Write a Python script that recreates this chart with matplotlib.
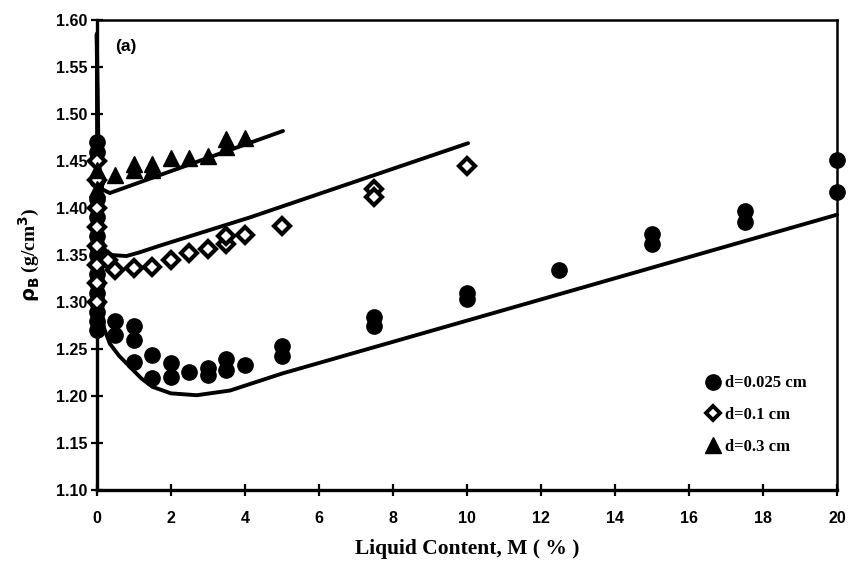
import matplotlib.pyplot as plt
from matplotlib.lines import Line2D

# measured points, d = 0.025 cm (filled circles)
m_circ = [0, 0, 0, 0, 0, 0, 0, 0, 0, 0, 0, 0, 0, 0, 0,
          0.5, 0.5, 1.0, 1.0, 1.0, 1.5, 1.5, 2.0, 2.0, 2.5, 3.0, 3.0,
          3.5, 3.5, 4.0, 5.0, 5.0, 7.5, 7.5, 10, 10, 12.5, 15, 15,
          17.5, 17.5, 20, 20]
rho_circ = [1.47, 1.46, 1.43, 1.41, 1.39, 1.37, 1.36, 1.35, 1.33, 1.32, 1.31, 1.30, 1.29, 1.28, 1.27,
            1.28, 1.265, 1.275, 1.26, 1.236, 1.244, 1.219, 1.235, 1.22, 1.226, 1.23, 1.222,
            1.24, 1.228, 1.233, 1.253, 1.243, 1.284, 1.275, 1.31, 1.303, 1.334, 1.372, 1.362,
            1.397, 1.385, 1.451, 1.417]

# d = 0.1 cm (open diamonds)
m_diam = [0, 0, 0, 0, 0, 0, 0, 0, 0.3, 0.5, 1.0, 1.5, 2.0, 2.5, 3.0, 3.5, 3.5, 4.0,
          5.0, 7.5, 7.5, 10]
rho_diam = [1.45, 1.43, 1.40, 1.38, 1.36, 1.34, 1.32, 1.30, 1.345, 1.334, 1.336, 1.337,
            1.345, 1.352, 1.357, 1.362, 1.37, 1.371, 1.381, 1.42, 1.412, 1.445]

# d = 0.3 cm (filled triangles)
m_tri = [0, 0, 0.5, 1.0, 1.0, 1.5, 1.5, 2.0, 2.5, 3.0, 3.5, 3.5, 4.0]
rho_tri = [1.44, 1.42, 1.435, 1.44, 1.447, 1.44, 1.447, 1.453, 1.453, 1.455, 1.465, 1.474, 1.475]

# model curves
mc_circ = [0, 0.02, 0.05, 0.1, 0.2, 0.35, 0.6, 0.9, 1.2, 1.5, 2.0, 2.7, 3.6, 5.0, 20]
rc_circ = [1.585, 1.45, 1.35, 1.30, 1.272, 1.256, 1.243, 1.231, 1.219, 1.21, 1.203,
           1.201, 1.206, 1.224, 1.393]
mc_diam = [0, 0.02, 0.05, 0.1, 0.2, 0.3, 0.43, 0.8, 1.16, 1.7, 4.13, 10.03]
rc_diam = [1.585, 1.45, 1.40, 1.37, 1.357, 1.352, 1.35, 1.349, 1.353, 1.36, 1.39, 1.469]
mc_tri = [0, 0.05, 0.15, 0.35, 5.03]
rc_tri = [1.585, 1.45, 1.42, 1.416, 1.482]

labels = ['d=0.025 cm', 'd=0.1 cm', 'd=0.3 cm']

fig = plt.figure(figsize=(8.49, 5.72), dpi=100)
ax = fig.add_axes([0.114, 0.143, 0.872, 0.822])

lw = 2.8
ax.plot(mc_circ, rc_circ, color='black', lw=lw, solid_capstyle='round', clip_on=False)
ax.plot(mc_diam, rc_diam, color='black', lw=lw, solid_capstyle='round', clip_on=False)
ax.plot(mc_tri, rc_tri, color='black', lw=lw, solid_capstyle='round', clip_on=False)

ax.plot(m_circ, rho_circ, 'o', color='black', ms=11, ls='none', clip_on=False, zorder=3)
ax.plot(m_diam, rho_diam, 'D', mfc='white', mec='black', mew=3, ms=8, ls='none',
        clip_on=False, zorder=3)
ax.plot(m_tri, rho_tri, '^', color='black', ms=12, ls='none', clip_on=False, zorder=3)

ax.set_xlim(0, 20)
ax.set_ylim(1.10, 1.60)
ax.set_xticks(range(0, 21, 2))
yt = [1.10 + 0.05 * i for i in range(11)]
ax.set_yticks(yt)
ax.set_yticklabels(['%.2f' % v for v in yt])

for s in ['left', 'bottom']:
    ax.spines[s].set_linewidth(2.4)
for s in ['top', 'right']:
    ax.spines[s].set_linewidth(1.8)

ax.tick_params(direction='inout', length=8, width=1.6, top=False, right=False)
ax.tick_params(axis='x', pad=11)
ax.tick_params(axis='y', pad=3)
for t in ax.get_xticklabels() + ax.get_yticklabels():
    t.set_fontfamily('Liberation Sans')
    t.set_fontweight('bold')
    t.set_fontsize(11.5)

ax.set_xlabel('Liquid Content, M ( % )', family='Liberation Serif', fontweight='bold',
              fontsize=15.5, labelpad=9)
ax.set_ylabel(r'$\mathbf{\rho_B}$ (g/cm$^\mathbf{3}$)', family='Liberation Serif',
              fontweight='bold', fontsize=14, labelpad=10)

ax.text(0.025, 0.96, '(a)', transform=ax.transAxes, family='Liberation Sans',
        fontweight='bold', fontsize=12.5, va='top', ha='left')

handles = [
    Line2D([], [], marker='o', color='black', ms=11, ls='none'),
    Line2D([], [], marker='D', mfc='white', mec='black', mew=2.8, ms=7.5, ls='none'),
    Line2D([], [], marker='^', color='black', ms=11, ls='none'),
]
ax.legend(handles, labels, loc='upper left', bbox_to_anchor=(0.812, 0.262), frameon=False,
          prop={'family': 'Liberation Serif', 'size': 12, 'weight': 'bold'},
          handlelength=0.8, handletextpad=0.3, labelspacing=0.95, borderpad=0)

fig.savefig('out.png', dpi=100)
